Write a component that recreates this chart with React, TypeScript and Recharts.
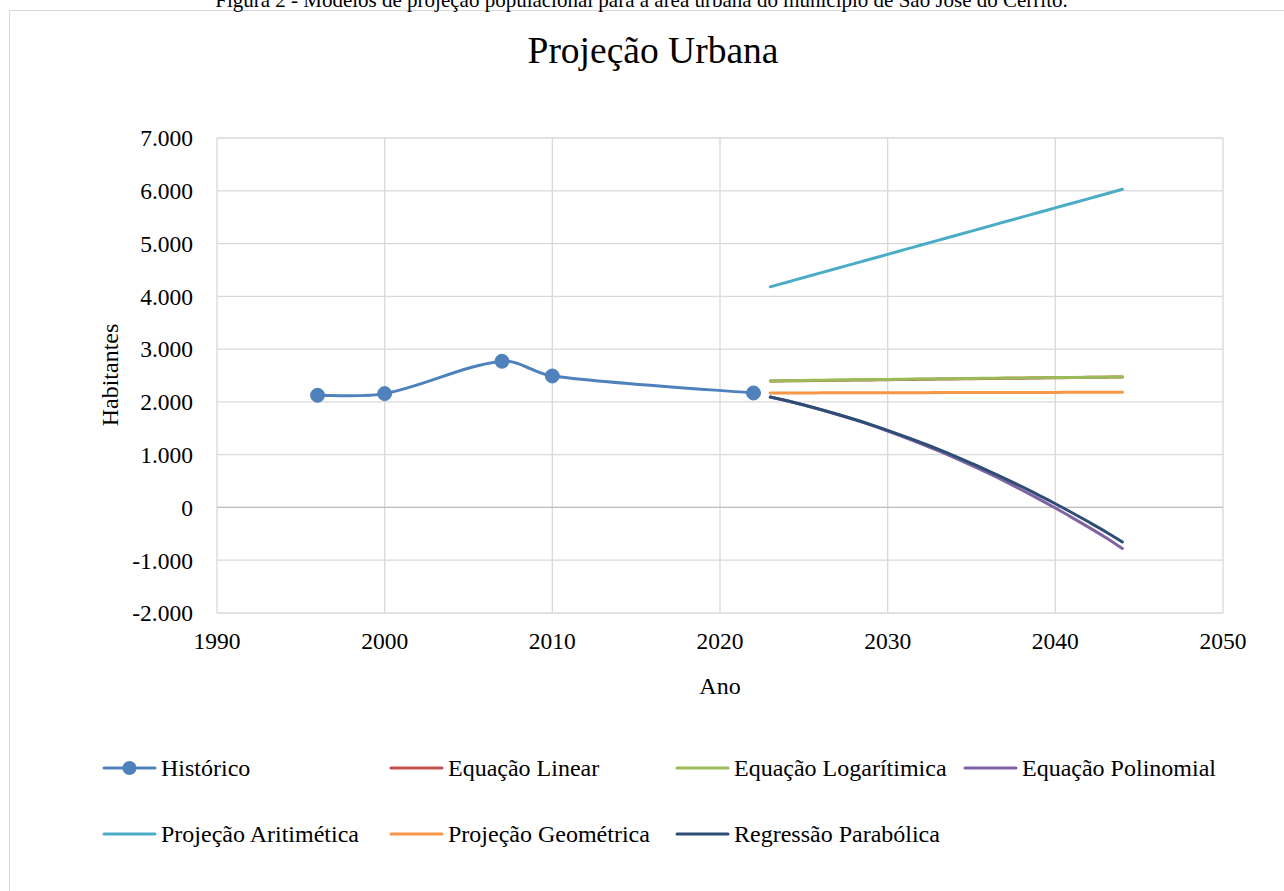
import { LineChart, Line, XAxis, YAxis, CartesianGrid, ReferenceLine } from 'recharts';

const ANOS_HIST = [1996, 2000, 2007, 2010, 2022];
const HISTORICO = [2125, 2157, 2770, 2491, 2169];

const ANOS_PROJ = [
  2023, 2024, 2025, 2026, 2027, 2028, 2029, 2030, 2031, 2032, 2033,
  2034, 2035, 2036, 2037, 2038, 2039, 2040, 2041, 2042, 2043, 2044,
];
const EQ_LINEAR = [
  2395, 2399, 2402, 2406, 2410, 2413, 2417, 2421, 2425, 2428, 2432,
  2436, 2439, 2443, 2447, 2450, 2454, 2458, 2462, 2465, 2469, 2473,
];
const EQ_LOG = [
  2397, 2402, 2406, 2410, 2414, 2418, 2422, 2426, 2430, 2433, 2437,
  2441, 2444, 2448, 2451, 2455, 2458, 2461, 2464, 2467, 2470, 2473,
];
const EQ_POLI = [
  2093, 2020, 1940, 1854, 1762, 1663, 1559, 1447, 1330, 1206, 1076,
  940, 797, 648, 493, 331, 163, -11, -192, -378, -571, -778,
];
const PROJ_ARIT = [
  4180, 4268, 4356, 4444, 4532, 4620, 4708, 4796, 4884, 4972, 5060,
  5148, 5236, 5324, 5412, 5500, 5588, 5676, 5764, 5852, 5940, 6028,
];
const PROJ_GEO = [
  2169, 2170, 2170, 2171, 2172, 2172, 2173, 2174, 2174, 2175, 2176,
  2176, 2177, 2178, 2178, 2179, 2180, 2180, 2181, 2181, 2182, 2182,
];
const REG_PARAB = [
  2093, 2020, 1941, 1857, 1766, 1670, 1569, 1461, 1348, 1229, 1104,
  974, 837, 695, 548, 394, 235, 70, -101, -277, -459, -655,
];

const X_TICKS = [1990, 2000, 2010, 2020, 2030, 2040, 2050];
const Y_TICKS = [-2000, -1000, 0, 1000, 2000, 3000, 4000, 5000, 6000, 7000];

const FONT = '"Liberation Serif", "Times New Roman", serif';

// Excel style smoothed line: bezier handles scaled by segment length
function excelSmooth(context: any) {
  let pts: [number, number][] = [];
  const dist = (a: [number, number], b: [number, number]) => Math.hypot(b[0] - a[0], b[1] - a[1]);
  return {
    areaStart() {},
    areaEnd() {},
    lineStart() {
      pts = [];
    },
    point(x: number, y: number) {
      pts.push([+x, +y]);
    },
    lineEnd() {
      const n = pts.length;
      if (!n) return;
      context.moveTo(pts[0][0], pts[0][1]);
      for (let i = 0; i < n - 1; i++) {
        const p0 = pts[i - 1] || pts[i];
        const p1 = pts[i];
        const p2 = pts[i + 1];
        const p3 = pts[i + 2] || p2;
        const d01 = dist(p0, p1);
        const d12 = dist(p1, p2);
        const d23 = dist(p2, p3);
        const f1 = d01 + d12 > 0 ? d12 / (d01 + d12) / 3 : 0;
        const f2 = d12 + d23 > 0 ? d12 / (d12 + d23) / 3 : 0;
        const a1 = i === 0 ? 1 / 3 : f1;
        const a2 = i + 2 >= n ? 1 / 3 : f2;
        const t1 = i === 0 ? [p2[0] - p1[0], p2[1] - p1[1]] : [p2[0] - p0[0], p2[1] - p0[1]];
        const t2 = i + 2 >= n ? [p2[0] - p1[0], p2[1] - p1[1]] : [p3[0] - p1[0], p3[1] - p1[1]];
        context.bezierCurveTo(
          p1[0] + t1[0] * (i === 0 ? 0.5 * a1 : a1),
          p1[1] + t1[1] * (i === 0 ? 0.5 * a1 : a1),
          p2[0] - t2[0] * (i + 2 >= n ? 0.5 * a2 : a2),
          p2[1] - t2[1] * (i + 2 >= n ? 0.5 * a2 : a2),
          p2[0],
          p2[1]
        );
      }
    },
  };
}

const toPoints = (anos: number[], vals: number[]) =>
  anos.map((ano, i) => ({ ano, v: vals[i] }));

const series = [
  { name: 'Histórico', color: '#4f81bd', data: toPoints(ANOS_HIST, HISTORICO), dot: true },
  { name: 'Equação Linear', color: '#c0504d', data: toPoints(ANOS_PROJ, EQ_LINEAR) },
  { name: 'Equação Logarítimica', color: '#9bbb59', data: toPoints(ANOS_PROJ, EQ_LOG) },
  { name: 'Equação Polinomial', color: '#8064a2', data: toPoints(ANOS_PROJ, EQ_POLI) },
  { name: 'Projeção Aritimética', color: '#4bacc6', data: toPoints(ANOS_PROJ, PROJ_ARIT) },
  { name: 'Projeção Geométrica', color: '#f79646', data: toPoints(ANOS_PROJ, PROJ_GEO) },
  { name: 'Regressão Parabólica', color: '#2c4d75', data: toPoints(ANOS_PROJ, REG_PARAB) },
];

const fmt = (v: number) => {
  const s = Math.abs(v).toString().replace(/\B(?=(\d{3})+(?!\d))/g, '.');
  return v < 0 ? '-' + s : s;
};

const LEG_COLS = [104, 391, 677, 965];
const LEG_ROWS = [768, 834];

export default function App() {
  return (
    <div style={{ position: 'absolute', left: 0, top: 0, width: 1284, height: 891, overflow: 'hidden', background: '#fff' }}>
      <div
        style={{
          position: 'absolute',
          left: 9,
          top: 10,
          width: 1300,
          height: 900,
          border: '1px solid #d9d9d9',
          boxSizing: 'border-box',
        }}
      />
      <LineChart
        width={1284}
        height={891}
        margin={{ top: 138, right: 61, bottom: 248, left: 157 }}
        style={{ position: 'absolute', left: 0, top: 0, fontFamily: FONT }}
      >
        <CartesianGrid stroke="#d9d9d9" strokeWidth={1.3} />
        <XAxis
          type="number"
          dataKey="ano"
          domain={[1990, 2050]}
          ticks={X_TICKS}
          allowDataOverflow
          axisLine={false}
          tickLine={false}
          tickSize={0}
          tickMargin={19}
          height={30}
          tick={{ fontSize: 23.5, fill: '#000', fontFamily: FONT }}
        />
        <YAxis
          type="number"
          domain={[-2000, 7000]}
          ticks={Y_TICKS}
          allowDataOverflow
          axisLine={false}
          tickLine={false}
          tickSize={0}
          tickMargin={24}
          width={60}
          tickFormatter={fmt}
          tick={{ fontSize: 23.5, fill: '#000', fontFamily: FONT }}
        />
        <ReferenceLine y={0} stroke="#bfbfbf" strokeWidth={1.3} />
        {series.map((s) => (
          <Line
            key={s.name}
            data={s.data}
            dataKey="v"
            name={s.name}
            type={excelSmooth as any}
            stroke={s.color}
            strokeWidth={3}
            strokeLinecap="round"
            dot={s.dot ? { r: 7, fill: s.color, stroke: s.color, strokeWidth: 1 } : false}
            activeDot={false}
            isAnimationActive={false}
          />
        ))}
      </LineChart>
      <svg
        width={1284}
        height={891}
        style={{ position: 'absolute', left: 0, top: 0, pointerEvents: 'none', fontFamily: FONT }}
      >
        <text x={641.5} y={7} textAnchor="middle" fontSize={21} fill="#000">
          Figura 2 - Modelos de projeção populacional para a área urbana do município de São José do Cerrito.
        </text>
        <text x={653} y={63} textAnchor="middle" fontSize={37.5} fill="#000">
          Projeção Urbana
        </text>
        <text x={720} y={694} textAnchor="middle" fontSize={24} fill="#000">
          Ano
        </text>
        <text x={118} y={375} textAnchor="middle" fontSize={24} fill="#000" transform="rotate(-90 118 375)">
          Habitantes
        </text>
        {series.map((s, i) => {
          const x = LEG_COLS[i < 4 ? i : i - 4];
          const y = LEG_ROWS[i < 4 ? 0 : 1];
          return (
            <g key={s.name}>
              <line x1={x} y1={y} x2={x + 51} y2={y} stroke={s.color} strokeWidth={3} strokeLinecap="round" />
              {s.dot && <circle cx={x + 25.5} cy={y} r={7} fill={s.color} />}
              <text x={x + 57} y={y + 8} fontSize={24} fill="#000">
                {s.name}
              </text>
            </g>
          );
        })}
      </svg>
    </div>
  );
}
